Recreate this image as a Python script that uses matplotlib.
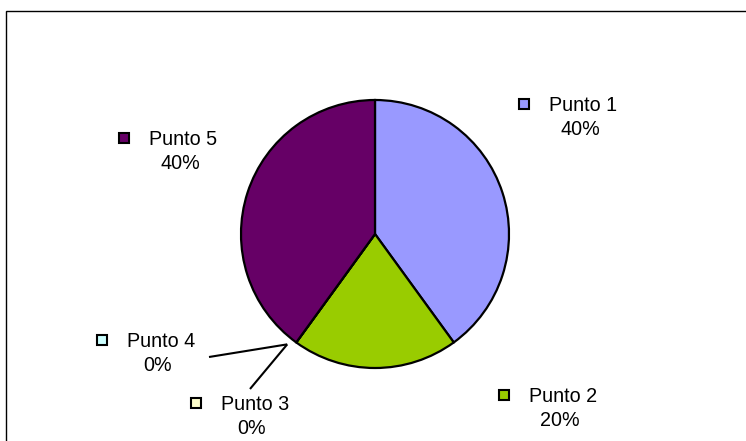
import numpy as np
import matplotlib.pyplot as plt
from matplotlib.patches import Rectangle

# Data
labels = ["Punto 1", "Punto 2", "Punto 3", "Punto 4", "Punto 5"]
values = [40, 20, 0, 0, 40]
colors = ["#9999FF", "#99CC00", "#FFFFCC", "#CCFFFF", "#660066"]

# Layout (pixel coordinates, y downwards)
CENTER = (375, 234)
RADIUS = 134
key_pos = {
    "Punto 1": (524, 104),
    "Punto 2": (504, 395),
    "Punto 3": (196, 403),
    "Punto 4": (102, 340),
    "Punto 5": (124, 138),
}
# labels of empty slices get a leader line back to the pie
leader_start = {
    "Punto 3": (250, 389),
    "Punto 4": (209, 357),
}

plt.rcParams['font.family'] = ['Liberation Sans', 'DejaVu Sans']

fig = plt.figure(figsize=(7.46, 4.41), dpi=100)
ax = fig.add_axes([0, 0, 1, 1])

# y axis is flipped, so start at -90 and go "counterclock" to get clockwise from 12 o'clock
wedges, _ = ax.pie(values, colors=colors, center=CENTER, radius=RADIUS,
                   startangle=-90, counterclock=True,
                   wedgeprops=dict(edgecolor="black", linewidth=1.6))
ax.set_xlim(0, 746)
ax.set_ylim(441, 0)
ax.axis("off")

total = float(sum(values))
for name, val, col, w in zip(labels, values, colors, wedges):
    mx, my = key_pos[name]
    ax.plot(mx, my, marker="s", markersize=6.5, markerfacecolor=col,
            markeredgecolor="black", markeredgewidth=1.5, linestyle="none")
    ax.text(mx + 25, my + 7, name, fontsize=14.2, ha="left", va="baseline")
    ax.text(mx + 56, my + 31, f"{val / total:.0%}", fontsize=14.2,
            ha="center", va="baseline")
    if name in leader_start:
        ang = np.deg2rad(w.theta1 + 2.5)
        ex = CENTER[0] + (RADIUS + 7) * np.cos(ang)
        ey = CENTER[1] + (RADIUS + 7) * np.sin(ang)
        sx, sy = leader_start[name]
        ax.plot([sx, ex], [sy, ey], color="black", linewidth=1.5,
                solid_capstyle="butt")

# chart area border
fig.patches.append(Rectangle((6 / 746, -0.1), 1.0, (441 - 11) / 441 + 0.1,
                             transform=fig.transFigure, fill=False,
                             edgecolor="black", linewidth=1.0))

fig.savefig("out.png", dpi=100)
